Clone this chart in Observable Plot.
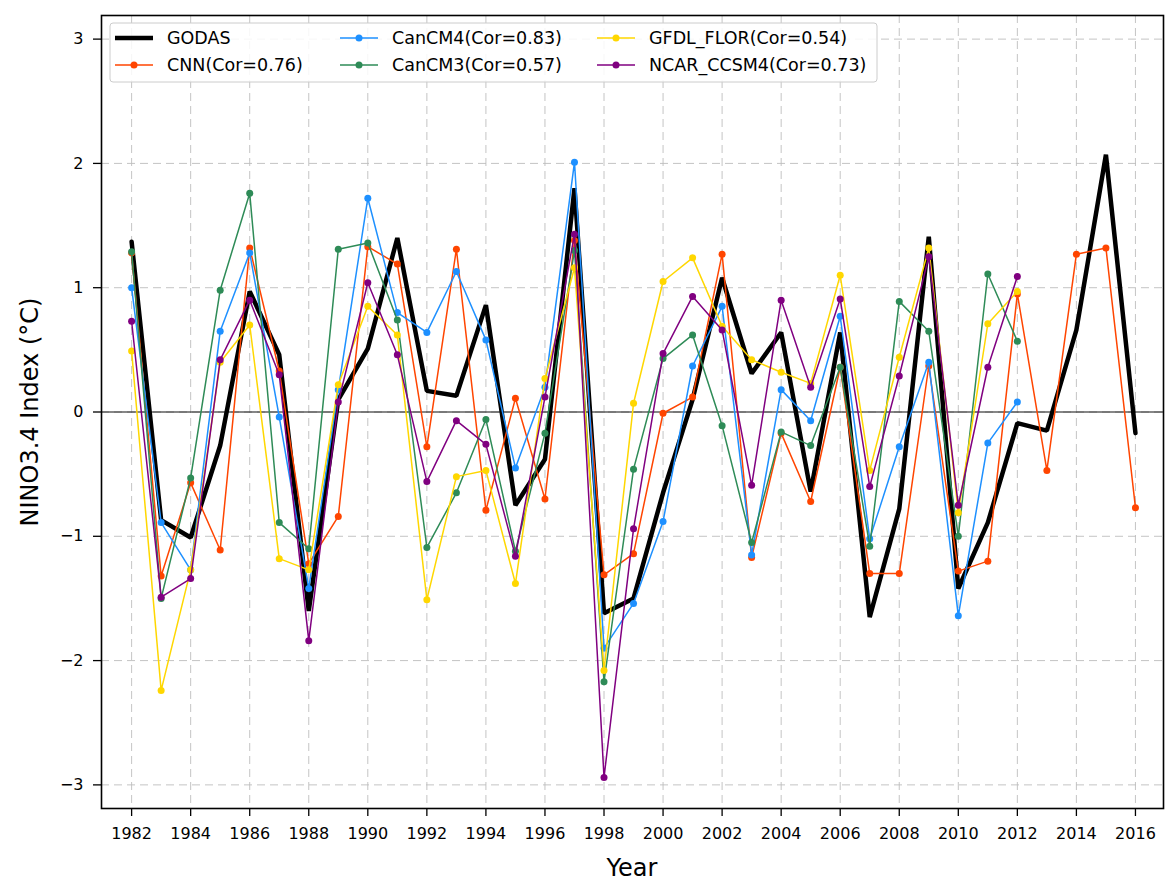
<!DOCTYPE html>
<html>
<head>
<meta charset="utf-8">
<script src="https://cdn.jsdelivr.net/npm/d3@7"></script>
<script src="https://cdn.jsdelivr.net/npm/@observablehq/plot@0.6"></script>
<style>
  body { margin: 0; background: white; }
  #chart svg { display: block; }
</style>
</head>
<body>
<div id="chart"></div>
<script>
const years = [1982,1983,1984,1985,1986,1987,1988,1989,1990,1991,1992,1993,1994,1995,1996,1997,1998,1999,2000,2001,2002,2003,2004,2005,2006,2007,2008,2009,2010,2011,2012,2013,2014,2015,2016];
const xTickYears = [1982,1984,1986,1988,1990,1992,1994,1996,1998,2000,2002,2004,2006,2008,2010,2012,2014,2016];
const yTickValues = [-3,-2,-1,0,1,2,3];

const godas  = [1.37,-0.87,-1.01,-0.27,0.97,0.46,-1.60,0.10,0.51,1.40,0.17,0.13,0.86,-0.75,-0.38,1.80,-1.62,-1.50,-0.65,0.10,1.08,0.31,0.64,-0.64,0.64,-1.65,-0.78,1.41,-1.42,-0.89,-0.09,-0.15,0.66,2.07,-0.17];
const cnn    = [1.28,-1.32,-0.57,-1.11,1.32,0.33,-1.22,-0.84,1.33,1.19,-0.28,1.31,-0.79,0.11,-0.70,1.38,-1.31,-1.14,-0.01,0.12,1.27,-1.17,-0.17,-0.72,0.36,-1.30,-1.30,0.37,-1.28,-1.20,0.95,-0.47,1.27,1.32,-0.77];
const cancm4 = [1.00,-0.89,-1.27,0.65,1.28,-0.04,-1.42,0.18,1.72,0.80,0.64,1.13,0.58,-0.45,0.20,2.01,-1.90,-1.54,-0.88,0.37,0.85,-1.15,0.18,-0.07,0.77,-1.02,-0.28,0.40,-1.64,-0.25,0.08];
const cancm3 = [1.29,-1.50,-0.53,0.98,1.76,-0.89,-1.10,1.31,1.36,0.74,-1.09,-0.65,-0.06,-1.12,-0.17,1.30,-2.17,-0.46,0.43,0.62,-0.11,-1.05,-0.16,-0.27,0.36,-1.08,0.89,0.65,-1.00,1.11,0.57];
const gfdl   = [0.49,-2.24,-1.27,0.40,0.70,-1.18,-1.27,0.22,0.85,0.62,-1.51,-0.52,-0.47,-1.38,0.27,1.16,-2.08,0.07,1.05,1.24,0.69,0.42,0.32,0.23,1.10,-0.47,0.44,1.32,-0.81,0.71,0.97];
const ncar   = [0.73,-1.49,-1.34,0.42,0.90,0.30,-1.84,0.08,1.04,0.46,-0.56,-0.07,-0.26,-1.16,0.12,1.43,-2.94,-0.94,0.47,0.93,0.66,-0.59,0.90,0.20,0.91,-0.60,0.29,1.25,-0.75,0.36,1.09];

const seriesNames = ["GODAS","CNN(Cor=0.76)","CanCM4(Cor=0.83)","CanCM3(Cor=0.57)","GFDL_FLOR(Cor=0.54)","NCAR_CCSM4(Cor=0.73)"];
const seriesValues = [godas, cnn, cancm4, cancm3, gfdl, ncar];
const seriesColors = ["#000000","#ff4500","#1e90ff","#2e8b57","#ffd700","#800080"];

function rows(vals) { return vals.map((v, i) => ({year: years[i], value: v})); }

const seriesMarks = [];
seriesValues.forEach((vals, i) => {
  const data = rows(vals);
  if (i === 0) {
    seriesMarks.push(Plot.line(data, {x: "year", y: "value", stroke: seriesColors[i], strokeWidth: 4.5, strokeLinejoin: "miter"}));
  } else {
    seriesMarks.push(Plot.line(data, {x: "year", y: "value", stroke: seriesColors[i], strokeWidth: 1.5}));
    seriesMarks.push(Plot.dot(data, {x: "year", y: "value", fill: seriesColors[i], r: 3.5}));
  }
});

const minus = d => d < 0 ? "\u2212" + Math.abs(d) : String(d);

const chart = Plot.plot({
  width: 1174,
  height: 886,
  marginLeft: 101,
  marginRight: 11,
  marginTop: 15,
  marginBottom: 78,
  style: {fontFamily: "DejaVu Sans", fontSize: "16px", color: "black", background: "white"},
  x: {domain: [1980.98, 2016.95]},
  y: {domain: [-3.19, 3.19]},
  marks: [
    Plot.gridX(xTickYears, {stroke: "#bdbdbd", strokeOpacity: 1, strokeWidth: 0.9, strokeDasharray: "8,5"}),
    Plot.gridY(yTickValues, {stroke: "#bdbdbd", strokeOpacity: 1, strokeWidth: 0.9, strokeDasharray: "8,5"}),
    Plot.ruleY([0], {stroke: "#111", strokeWidth: 1.2}),
    ...seriesMarks,
    Plot.axisX(xTickYears, {tickFormat: d3.format("d"), tickSize: 8, tickPadding: 11, strokeWidth: 1.3, label: null, fontSize: 16}),
    Plot.axisY(yTickValues, {tickFormat: minus, tickSize: 8, tickPadding: 10, strokeWidth: 1.3, label: null, fontSize: 16}),
    Plot.frame({stroke: "black", strokeWidth: 1.6})
  ]
});

document.getElementById("chart").appendChild(chart);

const svg = d3.select(chart);

svg.append("text")
  .attr("transform", "translate(30,412) rotate(-90)")
  .attr("text-anchor", "middle")
  .attr("dominant-baseline", "central")
  .attr("font-family", "DejaVu Sans")
  .attr("font-size", 24)
  .attr("fill", "black")
  .text("NINO3.4 Index (°C)");

svg.append("text")
  .attr("x", 632)
  .attr("y", 868)
  .attr("text-anchor", "middle")
  .attr("dominant-baseline", "central")
  .attr("font-family", "DejaVu Sans")
  .attr("font-size", 24)
  .attr("fill", "black")
  .text("Year");

// Legend
const lg = svg.append("g");
lg.append("rect")
  .attr("x", 110).attr("y", 23).attr("width", 767).attr("height", 59)
  .attr("rx", 3).attr("fill", "white").attr("fill-opacity", 0.85)
  .attr("stroke", "#cccccc").attr("stroke-width", 1);

const colX = [115, 340, 597];
const rowY = [38, 65];
seriesNames.forEach((name, i) => {
  const cx = colX[Math.floor(i / 2)];
  const cy = rowY[i % 2];
  lg.append("line")
    .attr("x1", cx).attr("x2", cx + 38).attr("y1", cy).attr("y2", cy)
    .attr("stroke", seriesColors[i]).attr("stroke-width", i === 0 ? 4.5 : 1.5);
  if (i > 0) {
    lg.append("circle").attr("cx", cx + 19).attr("cy", cy).attr("r", 3.5).attr("fill", seriesColors[i]);
  }
  lg.append("text")
    .attr("x", cx + 52).attr("y", cy)
    .attr("text-anchor", "start")
    .attr("dominant-baseline", "central")
    .attr("font-family", "DejaVu Sans")
    .attr("font-size", 17.5)
    .attr("fill", "black")
    .text(name);
});
</script>
</body>
</html>
